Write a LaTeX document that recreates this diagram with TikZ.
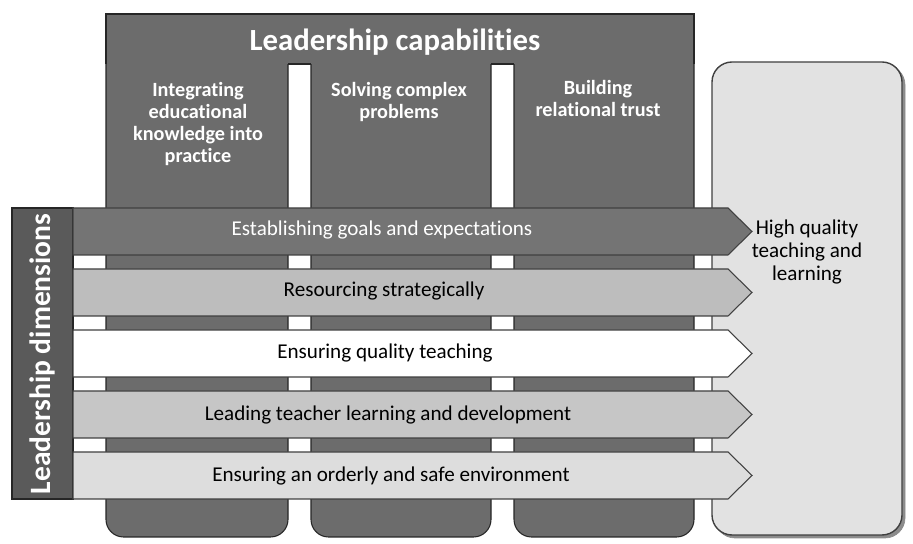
\documentclass[tikz,border=0pt]{standalone}
\usepackage{fontspec}
\setmainfont{Carlito}[Ligatures=NoCommon]
\definecolor{capgray}{HTML}{6C6C6C}
\definecolor{bargray}{HTML}{5A5A5A}
\definecolor{goalgray}{HTML}{747474}
\definecolor{resgray}{HTML}{BDBDBD}
\definecolor{leadgray}{HTML}{C6C6C6}
\definecolor{safegray}{HTML}{DDDDDD}
\definecolor{hqgray}{HTML}{E2E2E2}

\begin{document}
\begin{tikzpicture}[x=0.2mm, y=0.2mm,
    capcol/.style={fill=capgray, draw=black!85, line width=0.6pt},
    capline/.style={draw=black!85, line width=0.6pt},
    dimarrow/.style={draw=black!75, line width=0.6pt},
    bigtext/.style={text=white, font=\fontsize{17.5}{20}\selectfont\bfseries},
    captext/.style={text=white, font=\fontsize{11.5}{12.5}\selectfont\bfseries, align=center, anchor=north},
    dimtext/.style={font=\fontsize{12}{14}\selectfont}]
    \useasboundingbox (0,0) rectangle (913,-544);
    \filldraw[fill=black!45, draw=black!45, rounded corners=4mm] (715,-65) rectangle (905,-538);
    \filldraw[fill=hqgray, draw=black!75, line width=0.8pt, rounded corners=4mm] (712,-62) rectangle (902,-535);
    \filldraw[capcol, rounded corners=3.5mm] (106,-14) rectangle (288,-537);
    \filldraw[capcol, rounded corners=3.5mm] (311,-14) rectangle (491,-537);
    \filldraw[capcol, rounded corners=3.5mm] (514,-14) rectangle (694,-537);
    \fill[capgray] (106,-14) rectangle (694,-64);
    \draw[capline] (106,-64) -- (106,-14) -- (694,-14) -- (694,-64);
    \draw[capline] (288,-64) -- (311,-64);
    \draw[capline] (491,-64) -- (514,-64);
    \node[bigtext] (caps) at (395,-42) {Leadership capabilities};
    \node[captext] (capA) at (198,-76) {Integrating\\educational\\knowledge into\\practice};
    \node[captext] (capB) at (399,-76) {Solving complex\\problems};
    \node[captext] (capC) at (598,-74) {Building\\relational trust};
    \filldraw[fill=bargray, draw=black!85, line width=0.6pt] (12,-208) rectangle (73,-499);
    \node[bigtext, font=\fontsize{16.8}{19}\selectfont\bfseries, rotate=90] (dims) at (42,-354) {Leadership dimensions};
    \filldraw[dimarrow, fill=goalgray] (73,-208) -- (728,-208) -- (752,-231.5) -- (728,-255) -- (73,-255) -- cycle;
    \filldraw[dimarrow, fill=resgray] (73,-269) -- (728,-269) -- (752,-292.5) -- (728,-316) -- (73,-316) -- cycle;
    \filldraw[dimarrow, fill=white] (73,-330) -- (728,-330) -- (752,-353.5) -- (728,-377) -- (73,-377) -- cycle;
    \filldraw[dimarrow, fill=leadgray] (73,-391) -- (728,-391) -- (752,-414.5) -- (728,-438) -- (73,-438) -- cycle;
    \filldraw[dimarrow, fill=safegray] (73,-452) -- (728,-452) -- (752,-475.5) -- (728,-499) -- (73,-499) -- cycle;
    \node[dimtext, text=white] (goals) at (382,-230) {Establishing goals and expectations};
    \node[dimtext] (resource) at (384,-291) {Resourcing strategically};
    \node[dimtext] (quality) at (385,-353) {Ensuring quality teaching};
    \node[dimtext] (teacher) at (388,-415) {Leading teacher learning and development};
    \node[dimtext] (safe) at (391,-476) {Ensuring an orderly and safe environment};
    \node[font=\fontsize{12}{13}\selectfont, align=center, anchor=north] (hq) at (807,-214) {High quality\\teaching and\\learning};
\end{tikzpicture}
\end{document}
